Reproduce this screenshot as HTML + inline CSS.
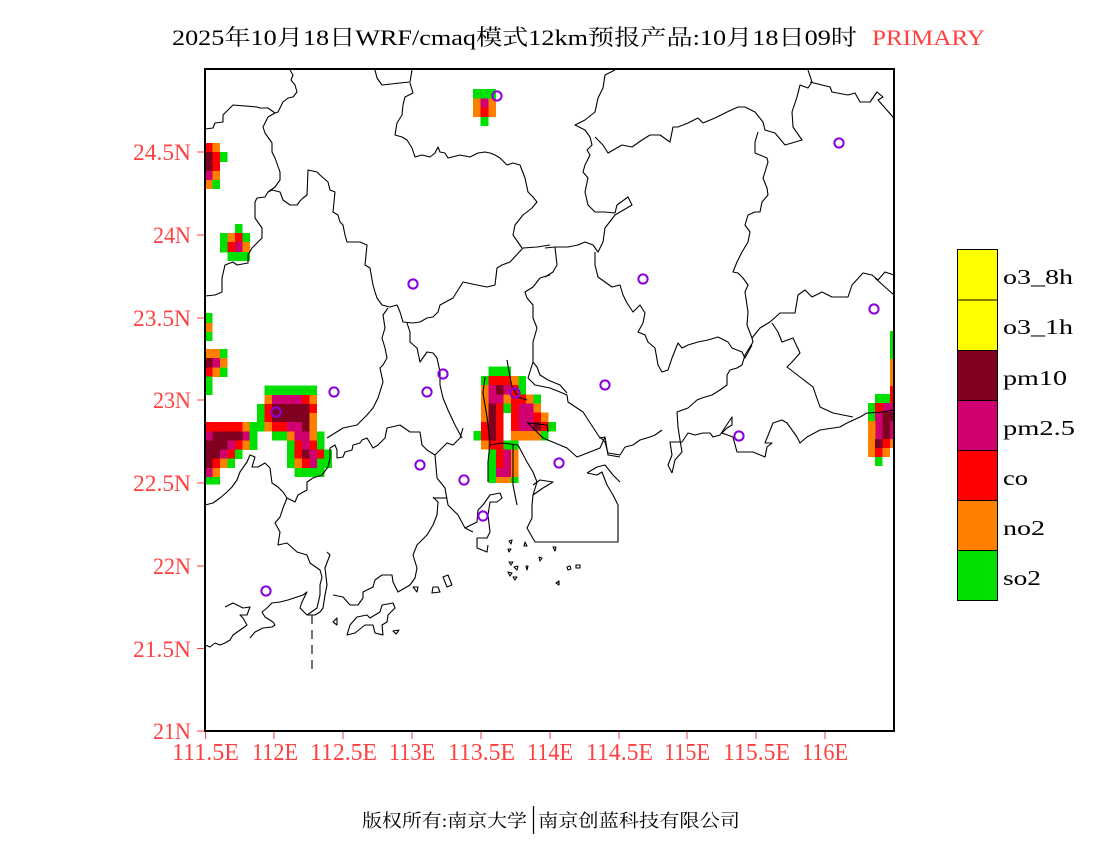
<!DOCTYPE html>
<html><head><meta charset="utf-8"><style>
html,body{margin:0;padding:0;background:#fff;}
svg{display:block;}
.g{fill:#00e000}.o{fill:#ff8000}.r{fill:#ff0000}.p{fill:#d00070}.d{fill:#800020}.w{fill:#fff}
.ln{fill:none;stroke:#000;stroke-width:1.1;stroke-linejoin:round}
.cir{fill:none;stroke:#8a00e0;stroke-width:2}
.lab{font-family:"Liberation Serif","Noto Serif CJK SC",serif;fill:#ff4040}
</style></head><body>
<svg width="1100" height="850" viewBox="0 0 1100 850" xmlns="http://www.w3.org/2000/svg">
<rect width="1100" height="850" fill="#fff"/>
<!-- Title -->
<text x="172" y="45" textLength="685" lengthAdjust="spacingAndGlyphs" font-family="'Liberation Serif','Noto Serif CJK SC',serif" font-size="22" fill="#000">2025年10月18日WRF/cmaq模式12km预报产品:10月18日09时</text>
<text x="872" y="45" textLength="113" lengthAdjust="spacingAndGlyphs" font-family="'Liberation Serif',serif" font-size="22" fill="#ff4040">PRIMARY</text>

<g shape-rendering="crispEdges">
<!-- 24.5N cluster -->
<rect class="r" x="205" y="143" width="7.6" height="9.3"/><rect class="o" x="212.45" y="143" width="7.6" height="9.3"/>
<rect class="d" x="205" y="152" width="7.6" height="9.8"/><rect class="r" x="212.45" y="152" width="7.6" height="9.8"/><rect class="g" x="219.9" y="152" width="7.6" height="9.8"/>
<rect class="d" x="205" y="161.5" width="7.6" height="9.8"/><rect class="r" x="212.45" y="161.5" width="7.6" height="9.8"/>
<rect class="p" x="205" y="171" width="7.6" height="9.3"/><rect class="o" x="212.45" y="171" width="7.6" height="9.3"/>
<rect class="o" x="205" y="180" width="7.6" height="9"/><rect class="g" x="212.45" y="180" width="7.6" height="9"/>
<!-- 24N cluster -->
<rect class="g" x="234.8" y="224" width="7.6" height="9.3"/>
<rect class="g" x="219.9" y="233" width="7.6" height="9.3"/><rect class="o" x="227.35" y="233" width="7.6" height="9.3"/><rect class="r" x="234.8" y="233" width="7.6" height="9.3"/><rect class="g" x="242.25" y="233" width="7.6" height="9.3"/>
<rect class="g" x="219.9" y="242" width="7.6" height="10.3"/><rect class="r" x="227.35" y="242" width="7.6" height="10.3"/><rect class="p" x="234.8" y="242" width="7.6" height="10.3"/><rect class="o" x="242.25" y="242" width="7.6" height="10.3"/>
<rect class="g" x="227.35" y="252" width="22.5" height="9"/>
<!-- 23.3N cluster -->
<rect class="g" x="205" y="313" width="7.6" height="10.3"/>
<rect class="o" x="205" y="323" width="7.6" height="9.3"/>
<rect class="g" x="205" y="332" width="7.6" height="9"/>
<rect class="o" x="205" y="349" width="15" height="9.3"/><rect class="g" x="219.9" y="349" width="7.6" height="9.3"/>
<rect class="d" x="205" y="358" width="7.6" height="9.8"/><rect class="p" x="212.45" y="358" width="7.6" height="9.8"/><rect class="o" x="219.9" y="358" width="7.6" height="9.8"/>
<!-- left / 112E cluster grid x=205+7.45i y=367.5+9.12j -->
<rect class="r" x="205" y="367.5" width="7.6" height="9.3"/><rect class="o" x="212.45" y="367.5" width="7.6" height="9.3"/><rect class="g" x="219.9" y="367.5" width="7.6" height="9.3"/>
<rect class="g" x="205" y="376.62" width="7.6" height="18.4"/>
<rect class="g" x="264.6" y="385.74" width="52.3" height="9.3"/>
<rect class="o" x="264.6" y="394.86" width="7.6" height="9.3"/><rect class="p" x="272.05" y="394.86" width="29.95" height="9.3"/><rect class="r" x="301.85" y="394.86" width="7.6" height="9.3"/><rect class="o" x="309.3" y="394.86" width="7.6" height="9.3"/>
<rect class="g" x="257.15" y="403.98" width="7.6" height="18.4"/><rect class="r" x="264.6" y="403.98" width="7.6" height="18.4"/><rect class="d" x="272.05" y="403.98" width="37.4" height="18.4"/><rect class="r" x="309.3" y="403.98" width="7.6" height="9.3"/><rect class="o" x="309.3" y="413.1" width="7.6" height="9.3"/>
<rect class="r" x="205" y="422.22" width="37.4" height="9.3"/><rect class="o" x="242.25" y="422.22" width="7.6" height="9.3"/><rect class="g" x="249.7" y="422.22" width="15" height="9.3"/><rect class="o" x="264.6" y="422.22" width="7.6" height="9.3"/><rect class="r" x="272.05" y="422.22" width="15" height="9.3"/><rect class="p" x="286.95" y="422.22" width="15" height="9.3"/><rect class="d" x="301.85" y="422.22" width="7.6" height="9.3"/><rect class="o" x="309.3" y="422.22" width="7.6" height="9.3"/>
<rect class="p" x="205" y="431.34" width="7.6" height="9.3"/><rect class="d" x="212.45" y="431.34" width="29.95" height="9.3"/><rect class="p" x="242.25" y="431.34" width="7.6" height="9.3"/><rect class="g" x="249.7" y="431.34" width="7.6" height="9.3"/><rect class="g" x="272.05" y="431.34" width="15" height="9.3"/><rect class="o" x="286.95" y="431.34" width="7.6" height="9.3"/><rect class="p" x="294.4" y="431.34" width="15" height="9.3"/><rect class="o" x="309.3" y="431.34" width="7.6" height="9.3"/><rect class="g" x="316.75" y="431.34" width="7.6" height="9.3"/>
<rect class="d" x="205" y="440.46" width="22.5" height="9.3"/><rect class="p" x="227.35" y="440.46" width="7.6" height="9.3"/><rect class="r" x="234.8" y="440.46" width="7.6" height="9.3"/><rect class="o" x="242.25" y="440.46" width="7.6" height="9.3"/><rect class="g" x="249.7" y="440.46" width="7.6" height="9.3"/><rect class="g" x="286.95" y="440.46" width="7.6" height="9.3"/><rect class="r" x="294.4" y="440.46" width="7.6" height="9.3"/><rect class="p" x="301.85" y="440.46" width="7.6" height="9.3"/><rect class="r" x="309.3" y="440.46" width="7.6" height="9.3"/><rect class="g" x="316.75" y="440.46" width="7.6" height="9.3"/>
<rect class="d" x="205" y="449.58" width="15" height="9.3"/><rect class="p" x="219.9" y="449.58" width="7.6" height="9.3"/><rect class="r" x="227.35" y="449.58" width="7.6" height="9.3"/><rect class="g" x="234.8" y="449.58" width="7.6" height="9.3"/><rect class="g" x="286.95" y="449.58" width="7.6" height="9.3"/><rect class="r" x="294.4" y="449.58" width="7.6" height="9.3"/><rect class="d" x="301.85" y="449.58" width="7.6" height="9.3"/><rect class="p" x="309.3" y="449.58" width="7.6" height="9.3"/><rect class="r" x="316.75" y="449.58" width="7.6" height="9.3"/><rect class="g" x="324.2" y="449.58" width="7.6" height="9.3"/>
<rect class="d" x="205" y="458.7" width="7.6" height="9.3"/><rect class="r" x="212.45" y="458.7" width="7.6" height="9.3"/><rect class="o" x="219.9" y="458.7" width="7.6" height="9.3"/><rect class="g" x="227.35" y="458.7" width="7.6" height="9.3"/><rect class="g" x="286.95" y="458.7" width="7.6" height="9.3"/><rect class="o" x="294.4" y="458.7" width="7.6" height="9.3"/><rect class="r" x="301.85" y="458.7" width="7.6" height="9.3"/><rect class="p" x="309.3" y="458.7" width="7.6" height="9.3"/><rect class="g" x="316.75" y="458.7" width="15" height="9.3"/>
<rect class="p" x="205" y="467.82" width="7.6" height="9.3"/><rect class="o" x="212.45" y="467.82" width="7.6" height="9.3"/><rect class="g" x="294.4" y="467.82" width="29.95" height="9.3"/>
<rect class="g" x="205" y="476.94" width="15" height="7.5"/>
<!-- top cluster -->
<rect class="g" x="473" y="89" width="23.2" height="9.5"/>
<rect class="o" x="473" y="98.3" width="7.8" height="9.6"/><rect class="p" x="480.7" y="98.3" width="7.8" height="9.6"/><rect class="o" x="488.3" y="98.3" width="7.8" height="9.6"/>
<rect class="o" x="473" y="107.7" width="7.8" height="9.5"/><rect class="r" x="480.7" y="107.7" width="7.8" height="9.5"/><rect class="o" x="488.3" y="107.7" width="7.8" height="9.5"/>
<rect class="g" x="480.7" y="117" width="7.8" height="9"/>
<!-- central cluster x=473.3+7.5i y=366.7+9.2j -->
<rect class="g" x="488.3" y="366.7" width="22.6" height="9.4"/>
<rect class="g" x="480.8" y="375.9" width="7.6" height="9.4"/><rect class="r" x="488.3" y="375.9" width="22.6" height="9.4"/><rect class="o" x="510.8" y="375.9" width="7.6" height="9.4"/><rect class="g" x="518.3" y="375.9" width="7.6" height="9.4"/>
<rect class="o" x="480.8" y="385.1" width="7.6" height="9.4"/><rect class="p" x="488.3" y="385.1" width="7.6" height="9.4"/><rect class="d" x="495.8" y="385.1" width="7.6" height="9.4"/><rect class="p" x="503.3" y="385.1" width="7.6" height="9.4"/><rect class="r" x="510.8" y="385.1" width="7.6" height="9.4"/><rect class="g" x="518.3" y="385.1" width="7.6" height="9.4"/>
<rect class="o" x="480.8" y="394.3" width="7.6" height="9.4"/><rect class="p" x="488.3" y="394.3" width="15.1" height="9.4"/><rect class="o" x="503.3" y="394.3" width="7.6" height="9.4"/><rect class="r" x="510.8" y="394.3" width="15.1" height="9.4"/><rect class="o" x="525.8" y="394.3" width="7.6" height="9.4"/><rect class="g" x="533.3" y="394.3" width="7.6" height="9.4"/>
<rect class="o" x="480.8" y="403.5" width="7.6" height="9.4"/><rect class="d" x="488.3" y="403.5" width="7.6" height="36.9"/><rect class="r" x="495.8" y="403.5" width="7.6" height="36.9"/><rect class="g" x="503.3" y="403.5" width="7.6" height="9.4"/><rect class="r" x="510.8" y="403.5" width="7.6" height="27.8"/><rect class="p" x="518.3" y="403.5" width="15.1" height="27.8"/><rect class="o" x="533.3" y="403.5" width="7.6" height="9.4"/>
<rect class="o" x="480.8" y="412.7" width="7.6" height="9.4"/><rect class="r" x="533.3" y="412.7" width="7.6" height="9.4"/><rect class="o" x="540.8" y="412.7" width="7.6" height="9.4"/>
<rect class="r" x="480.8" y="421.9" width="7.6" height="9.4"/><rect class="d" x="533.3" y="421.9" width="7.6" height="9.4"/><rect class="r" x="540.8" y="421.9" width="7.6" height="9.4"/><rect class="g" x="548.3" y="421.9" width="7.6" height="9.4"/>
<rect class="g" x="473.3" y="431.1" width="7.6" height="9.4"/><rect class="r" x="480.8" y="431.1" width="7.6" height="9.4"/><rect class="o" x="510.8" y="431.1" width="30.1" height="9.4"/><rect class="g" x="540.8" y="431.1" width="7.6" height="9.4"/>
<rect class="o" x="480.8" y="440.3" width="7.6" height="9.4"/><rect class="r" x="488.3" y="440.3" width="15.1" height="9.4"/><rect class="g" x="503.3" y="440.3" width="15.1" height="9.4"/>
<rect class="g" x="488.3" y="449.5" width="7.6" height="27.8"/><rect class="r" x="495.8" y="449.5" width="7.6" height="18.6"/><rect class="p" x="503.3" y="449.5" width="7.6" height="18.6"/><rect class="o" x="510.8" y="449.5" width="7.6" height="27.8"/>
<rect class="p" x="495.8" y="467.9" width="15.1" height="9.4"/>
<rect class="g" x="488.3" y="477.1" width="7.6" height="6"/><rect class="o" x="495.8" y="477.1" width="15.1" height="6"/><rect class="g" x="510.8" y="477.1" width="7.6" height="6"/>
<!-- right cluster -->
<rect class="g" x="890" y="331" width="4" height="28"/><rect class="o" x="890" y="359" width="4" height="27"/><rect class="r" x="890" y="386" width="4" height="8"/>
<rect class="g" x="875" y="394" width="15" height="9.2"/><rect class="r" x="890" y="394" width="4" height="9.2"/>
<rect class="g" x="868" y="403" width="7.6" height="18.2"/><rect class="r" x="875" y="403" width="7.6" height="9.2"/><rect class="p" x="882.5" y="403" width="11.5" height="9.2"/>
<rect class="p" x="875" y="412" width="7.6" height="27.2"/><rect class="d" x="882.5" y="412" width="11.5" height="9.2"/>
<rect class="o" x="868" y="421" width="7.6" height="36.2"/><rect class="d" x="882.5" y="421" width="7.6" height="18.2"/><rect class="p" x="890" y="421" width="4" height="18.2"/>
<rect class="d" x="875" y="439" width="7.6" height="9.2"/><rect class="r" x="882.5" y="439" width="7.6" height="9.2"/><rect class="o" x="890" y="439" width="4" height="9.2"/>
<rect class="r" x="875" y="448" width="7.6" height="9.2"/><rect class="o" x="882.5" y="448" width="7.6" height="9.2"/>
<rect class="g" x="875" y="457" width="7.6" height="9"/>
</g>

<!-- map lines -->
<g class="ln">
<polyline points="290,70 293,75 291,80 295,85 297,92 293,97 288,98 283,102 278,112 275,113 268,108 260,108 257,107 233,105 223,115 223,122 215,123 213,128 205,129"/>
<polyline points="275,113 268,117 263,127 265,133 272,143 272,152 275,158 280,172 280,180 275,187 268,192 265,197 257,198 255,202 255,218 262,228 262,238 252,248 248,255 248,263 237,265 233,262 225,265 222,278 222,292 215,295 205,296"/>
<polyline points="268,192 272,190 280,192 283,200 290,205 297,205 300,201 303,198 307,195 308,170 317,172 320,175 328,182 330,190 335,192 333,212 338,215 340,222 343,225 345,235 347,242 360,242 367,245 365,265 370,268 373,285 375,292 377,298 382,305 390,307 397,305 400,312 403,322 413,323 420,322 427,318 433,317 438,312 440,305 453,298 463,282 477,285 487,287 495,285 497,268 502,265 510,262 523,248 537,247 550,245"/>
<polyline points="375,70 377,78 382,85 400,83 410,82 412,70"/>
<polyline points="410,83 413,93 405,97 403,105 402,115 397,123 395,135 402,137 407,140 412,148 415,157 422,155 430,157 435,153 438,147 440,152 445,153 448,158 460,155 470,157 478,153 485,152 490,153 495,155 500,158 507,165 513,163 520,165 525,178 528,192 533,197 537,202 532,208 523,215 515,225 513,235 522,248"/>
<polyline points="388,308 383,315 385,328 382,338 385,348 387,358 383,365 380,368 383,382 378,398 373,408 367,415 357,425 343,428 327,438"/>
<polyline points="407,323 410,332 410,342 417,348 420,362 427,352 433,353 437,358 440,372 440,385 443,398 448,410 455,425 462,438"/>
<polyline points="550,275 540,278 533,287 525,292 527,298 533,305 533,318 537,328 533,342 533,355 533,362 528,378 535,385 550,388 560,392 567,395 568,402 583,412 600,438 605,437"/>
<polyline points="507,360 510,377 512,387 518,397 527,400"/>
<polyline points="533,362 537,367 540,375 548,380 560,385 567,393"/>
<polyline points="615,70 605,75 603,88 598,98 595,112 585,120 575,125 585,130 590,137 592,145 587,150 590,155 585,165 583,172 588,178 585,192 588,205 595,212 605,212 615,213 617,205 628,197 632,205 615,215 605,228 603,242 598,252 593,245 585,242 578,245 568,247 555,247 545,248"/>
<polyline points="595,137 603,145 608,153 622,145 632,147 642,140 650,135 660,135 670,142 673,127 678,127 688,123 698,118 703,123 715,118 727,112 738,107 745,107 755,112 763,122 765,130 775,133 785,145 802,140 793,127 792,112 797,97 800,85 808,88 812,82 808,70"/>
<polyline points="810,82 830,87 832,92 848,95 855,93 860,102 870,102 877,92 883,97 878,100 885,108 893,117 894,122"/>
<polyline points="758,132 755,142 755,153 767,158 768,162 765,172 763,178 767,188 768,195 762,202 760,212 755,212 748,215 745,225 750,232 748,242 742,252 737,262 733,272 738,273 743,278 748,285 745,292 748,312 747,325 752,338 753,342 745,355 742,365 737,368 730,370 727,375 727,385 720,390 712,395 702,398 697,400 688,408 677,412 678,427 680,440 682,452 675,460 672,473"/>
<polyline points="555,247 557,265 553,272 545,277"/>
<polyline points="595,252 595,265 598,277 605,282 612,287 620,285 623,295 627,303 633,312 640,305 645,313 643,323 638,332 645,335 648,342 655,348 658,365 662,372 668,370 672,358 678,343 682,348 688,345 698,342 708,340 718,337 728,342 732,348 742,352 745,358 752,345"/>
<polyline points="752,338 760,328 770,322 780,313 795,313 798,295 805,290 812,297 822,292 832,297 848,297 852,285 863,273 872,275 878,280 885,272 894,275"/>
<polyline points="875,278 885,287 894,295"/>
<polyline points="772,323 778,332 782,342 793,338 800,353 792,362 787,367 800,377 813,387 820,407 833,413 853,417"/>
<polyline points="600,437 605,442 608,453 620,455 625,447 633,445 640,440 650,437 655,435 662,430"/>
<polyline points="672,473 668,465 672,455 670,442 682,442 688,433 695,435 703,433 710,433 713,437 720,435 732,417 732,425 727,428 722,433 733,437 737,452 753,452 765,457 767,447 772,443 765,443 773,423 782,420 787,423 797,437 800,443 807,437 820,430 840,427 847,423 860,417 867,413 883,412 894,410"/>
<polyline points="205,505 213,503 220,498 227,492 232,487 237,480 240,472 247,462 250,455 255,457 252,467 258,467 265,463 270,468 272,483 278,487 283,492 287,498 295,502 298,495 307,490 307,482 313,478 322,475 328,467 330,458 330,448 335,445 337,450 337,458 343,457 345,452 352,450 353,445 360,443 362,440 367,438 373,448 378,445 385,438 387,428 400,425 410,432 420,432 422,445 427,450 435,455 447,443 453,445 460,438 463,428"/>
<polyline points="287,498 283,508 280,517 275,523 280,532 278,545 287,543 297,552 307,555 310,563 320,570 322,577 320,585 320,595 317,608 310,613 307,615"/>
<polyline points="333,595 343,597 350,605 358,605 363,598 363,592 373,587 375,580 382,575 392,575 393,582 398,592 410,585 415,578 417,568 413,555 417,545 427,535 433,525 437,515 438,502 433,497"/>
<polyline points="435,455 437,478 445,488 448,505 458,515 465,528 473,532"/>
<polyline points="447,498 433,498"/>
<polyline points="465,528 477,522 478,510 483,505 490,495 500,493 502,498 497,502 490,502 488,515 490,532 487,538 477,538 477,548 487,552 488,545"/>
<polyline points="485,377 483,393 487,417 490,443 488,462 488,482"/>
<polyline points="490,445 502,443 518,445 527,462 533,472 537,482 533,495 532,505 532,518 527,528 535,542 618,542 618,505 613,495 607,485 602,472 597,475 587,473"/>
<polyline points="513,445 513,485 517,505"/>
<polyline points="533,485 540,480 553,482 543,488 533,495"/>
<polyline points="587,473 597,467 605,465 613,475 620,482"/>
<polyline points="527,422 543,438 567,448 577,457 590,452 600,448 605,437 608,455 620,457"/>
<polyline points="528,423 547,425 548,432"/>
<polyline points="205,645 210,647 215,643 220,645 225,643 230,640 233,635 243,628 247,625 243,618 240,615 247,615 250,607 243,608 233,603 225,607"/>
<polyline points="250,638 255,632 263,628 272,627 275,625 273,622 265,617 262,612 267,608 272,603 280,602 288,600 297,597 303,595 307,592 302,602 300,608 307,615 315,615 320,612 323,608 325,595 327,585 325,568 328,560 330,555 327,552"/>
<polyline points="312,615 312,672" stroke-dasharray="9,6"/>
<polygon points="347,635 350,625 357,617 367,615 370,618 380,612 382,605 393,603 395,608 388,615 387,622 382,625 383,635 375,633 373,625 365,625 355,633"/>
<polygon points="333,622 337,618 337,625"/>
<polygon points="393,631 399,630 396,634"/>
<polygon points="433,587 438,587 440,592 432,593"/>
<polygon points="443,577 448,575 452,585 447,587"/>
<polygon points="413,587 418,587 417,592"/>
<polygon points="509,541 512,540 511,544"/><polygon points="525,542 527,546 524,546"/>
<polygon points="508,549 511,549 509,552"/><polygon points="553,547 556,547 555,551"/>
<polygon points="539,557 542,558 540,561"/><polygon points="509,562 513,562 511,565"/>
<polygon points="514,567 518,566 517,570"/><polygon points="526,566 528,566 527,570"/>
<polygon points="508,572 512,573 510,576"/><polygon points="513,577 517,577 515,580"/>
<polygon points="567,567 570,566 571,569 568,570"/><polygon points="576,565 580,565 580,568 576,568"/>
<polygon points="556,583 559,581 559,585"/>
</g>

<!-- stations -->
<g class="cir">
<circle cx="497" cy="96" r="4.6"/><circle cx="413" cy="284" r="4.6"/><circle cx="839" cy="143" r="4.6"/>
<circle cx="643" cy="279" r="4.6"/><circle cx="874" cy="309" r="4.6"/><circle cx="605" cy="385" r="4.6"/>
<circle cx="443" cy="374" r="4.6"/><circle cx="334" cy="392" r="4.6"/><circle cx="427" cy="392" r="4.6"/>
<circle cx="515" cy="393" r="4.6"/><circle cx="276" cy="412" r="4.6"/><circle cx="420" cy="465" r="4.6"/>
<circle cx="464" cy="480" r="4.6"/><circle cx="559" cy="463" r="4.6"/><circle cx="483" cy="516" r="4.6"/>
<circle cx="266" cy="591" r="4.6"/><circle cx="739" cy="436" r="4.6"/>
</g>

<!-- frame -->
<rect x="205" y="69" width="689" height="662" fill="none" stroke="#000" stroke-width="2"/>
<!-- ticks -->
<g stroke="#ff4040" stroke-width="1">
<line x1="197" y1="731" x2="204" y2="731"/><line x1="197" y1="648.5" x2="204" y2="648.5"/><line x1="197" y1="566" x2="204" y2="566"/><line x1="197" y1="483" x2="204" y2="483"/>
<line x1="197" y1="400" x2="204" y2="400"/><line x1="197" y1="318" x2="204" y2="318"/><line x1="197" y1="235" x2="204" y2="235"/><line x1="197" y1="152" x2="204" y2="152"/>
<line x1="205.5" y1="732" x2="205.5" y2="739"/><line x1="274" y1="732" x2="274" y2="739"/><line x1="343" y1="732" x2="343" y2="739"/><line x1="412" y1="732" x2="412" y2="739"/>
<line x1="481" y1="732" x2="481" y2="739"/><line x1="550" y1="732" x2="550" y2="739"/><line x1="619" y1="732" x2="619" y2="739"/><line x1="687" y1="732" x2="687" y2="739"/>
<line x1="756" y1="732" x2="756" y2="739"/><line x1="825" y1="732" x2="825" y2="739"/>
</g>
<!-- lat labels -->
<g class="lab" font-size="23" text-anchor="end">
<text x="191" y="739" textLength="38" lengthAdjust="spacingAndGlyphs">21N</text>
<text x="191" y="657" textLength="58" lengthAdjust="spacingAndGlyphs">21.5N</text>
<text x="191" y="574" textLength="38" lengthAdjust="spacingAndGlyphs">22N</text>
<text x="191" y="491" textLength="58" lengthAdjust="spacingAndGlyphs">22.5N</text>
<text x="191" y="408" textLength="38" lengthAdjust="spacingAndGlyphs">23N</text>
<text x="191" y="326" textLength="58" lengthAdjust="spacingAndGlyphs">23.5N</text>
<text x="191" y="243" textLength="38" lengthAdjust="spacingAndGlyphs">24N</text>
<text x="191" y="160" textLength="58" lengthAdjust="spacingAndGlyphs">24.5N</text>
</g>
<!-- lon labels -->
<g class="lab" font-size="24">
<text x="172" y="760" textLength="67" lengthAdjust="spacingAndGlyphs">111.5E</text>
<text x="252" y="760" textLength="46" lengthAdjust="spacingAndGlyphs">112E</text>
<text x="310" y="760" textLength="67" lengthAdjust="spacingAndGlyphs">112.5E</text>
<text x="389" y="760" textLength="46" lengthAdjust="spacingAndGlyphs">113E</text>
<text x="448" y="760" textLength="67" lengthAdjust="spacingAndGlyphs">113.5E</text>
<text x="527" y="760" textLength="46" lengthAdjust="spacingAndGlyphs">114E</text>
<text x="586" y="760" textLength="67" lengthAdjust="spacingAndGlyphs">114.5E</text>
<text x="664" y="760" textLength="46" lengthAdjust="spacingAndGlyphs">115E</text>
<text x="723" y="760" textLength="67" lengthAdjust="spacingAndGlyphs">115.5E</text>
<text x="802" y="760" textLength="46" lengthAdjust="spacingAndGlyphs">116E</text>
</g>

<!-- legend -->
<g stroke="#000" stroke-width="1" shape-rendering="crispEdges">
<rect x="957.5" y="249.5" width="40" height="50.3" fill="#ffff00"/>
<rect x="957.5" y="299.8" width="40" height="50.5" fill="#ffff00"/>
<rect x="957.5" y="350.3" width="40" height="50" fill="#800020"/>
<rect x="957.5" y="400.3" width="40" height="50" fill="#d00070"/>
<rect x="957.5" y="450.3" width="40" height="50" fill="#ff0000"/>
<rect x="957.5" y="500.3" width="40" height="50" fill="#ff8000"/>
<rect x="957.5" y="550.3" width="40" height="50.4" fill="#00e000"/>
</g>
<g font-family="'Liberation Serif',serif" font-size="21" fill="#000">
<text x="1003" y="284" textLength="70" lengthAdjust="spacingAndGlyphs">o3_8h</text>
<text x="1003" y="334" textLength="70" lengthAdjust="spacingAndGlyphs">o3_1h</text>
<text x="1003" y="385" textLength="64" lengthAdjust="spacingAndGlyphs">pm10</text>
<text x="1003" y="435" textLength="72" lengthAdjust="spacingAndGlyphs">pm2.5</text>
<text x="1003" y="485" textLength="25" lengthAdjust="spacingAndGlyphs">co</text>
<text x="1003" y="535" textLength="42" lengthAdjust="spacingAndGlyphs">no2</text>
<text x="1003" y="585" textLength="38" lengthAdjust="spacingAndGlyphs">so2</text>
</g>

<!-- footer -->
<g font-family="'Liberation Serif','Noto Serif CJK SC',serif" font-size="18" fill="#000">
<text x="362" y="827" textLength="165" lengthAdjust="spacingAndGlyphs">版权所有:南京大学</text>
<text x="538" y="827" textLength="202" lengthAdjust="spacingAndGlyphs">南京创蓝科技有限公司</text>
</g>
<line x1="533.5" y1="806" x2="533.5" y2="834" stroke="#000" stroke-width="1.2"/>
</svg>
</body></html>
